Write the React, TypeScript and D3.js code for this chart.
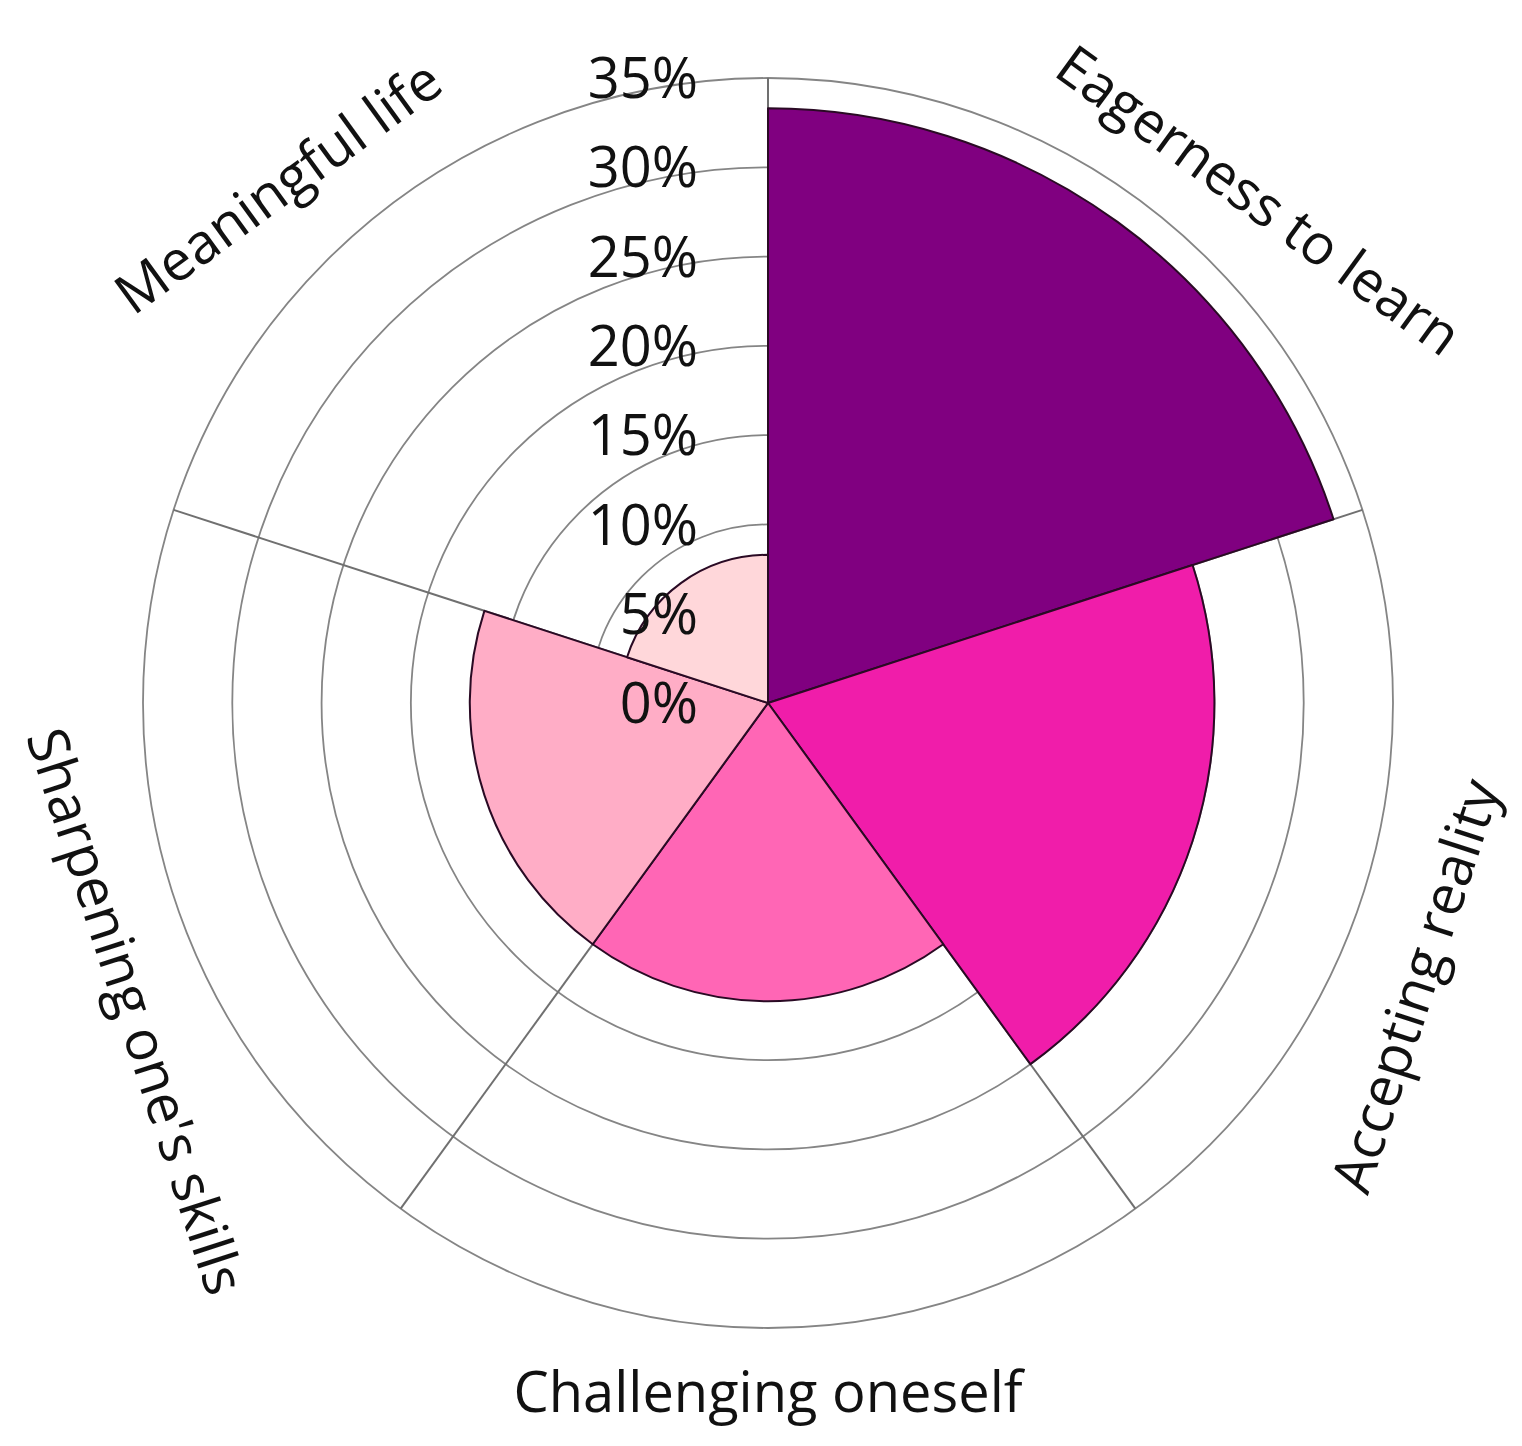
import React from "react";
import * as d3 from "d3";

const categories = [
  "Eagerness to learn",
  "Accepting reality",
  "Challenging oneself",
  "Sharpening one's skills",
  "Meaningful life",
];
const shares = [33.3, 25.0, 16.7, 16.7, 8.3];
const sectorColors = ["#800080", "#F01DAA", "#FF66B5", "#FFADC6", "#FFD7DA"];
const tickValues = [0, 5, 10, 15, 20, 25, 30, 35];
const tickLabels = ["0%", "5%", "10%", "15%", "20%", "25%", "30%", "35%"];

// label placement (degrees clockwise from top) – hand tuned to the picture
const labelAngle = [44.3, 113.6, 180, 244, 316.5];
const labelRotate = [36, -72, 0, 72, -36];
const labelRadius = [703, 706, 689, 703, 712];

const W = 1522;
const H = 1446;
const cx = 768;
const cy = 703;
const outerR = 625;
const font = "'Open Sans', 'Noto Sans', sans-serif";

const App = () => {
  const r = d3.scaleLinear().domain([0, 35]).range([0, outerR]);
  const step = (2 * Math.PI) / categories.length;
  const arc = d3.arc<any>();

  const polar = (deg: number, rad: number) => {
    const a = (deg * Math.PI) / 180;
    return [rad * Math.sin(a), -rad * Math.cos(a)];
  };

  return (
    <svg
      width={W}
      height={H}
      style={{ position: "absolute", left: 0, top: 0, background: "#fff" }}
    >
      <g transform={`translate(${cx},${cy})`}>
        {tickValues.slice(1).map((t) => (
          <circle key={t} r={r(t)} fill="none" stroke="#858585" strokeWidth={1.8} />
        ))}
        {categories.map((c, i) => {
          const [x, y] = polar((i * 360) / categories.length, outerR);
          return <line key={c} x1={0} y1={0} x2={x} y2={y} stroke="#707070" strokeWidth={2} />;
        })}
        {shares.map((v, i) => (
          <path
            key={categories[i]}
            d={
              arc({
                innerRadius: 0,
                outerRadius: r(v),
                startAngle: i * step,
                endAngle: (i + 1) * step,
              }) as string
            }
            fill={sectorColors[i]}
            stroke="#2a0a24"
            strokeWidth={2}
            strokeLinejoin="round"
          />
        ))}
        {tickValues.map((t, i) => (
          <text
            key={t}
            x={-70}
            y={-r(t)}
            dy="0.36em"
            textAnchor="end"
            fontFamily={font}
            fontSize={56}
            fill="#111"
          >
            {tickLabels[i]}
          </text>
        ))}
        {categories.map((c, i) => {
          const [x, y] = polar(labelAngle[i], labelRadius[i]);
          return (
            <text
              key={c}
              transform={`translate(${x},${y}) rotate(${labelRotate[i]})`}
              dy="0.36em"
              textAnchor="middle"
              fontFamily={font}
              fontSize={56}
              fill="#111"
            >
              {c}
            </text>
          );
        })}
      </g>
    </svg>
  );
};

export default App;
